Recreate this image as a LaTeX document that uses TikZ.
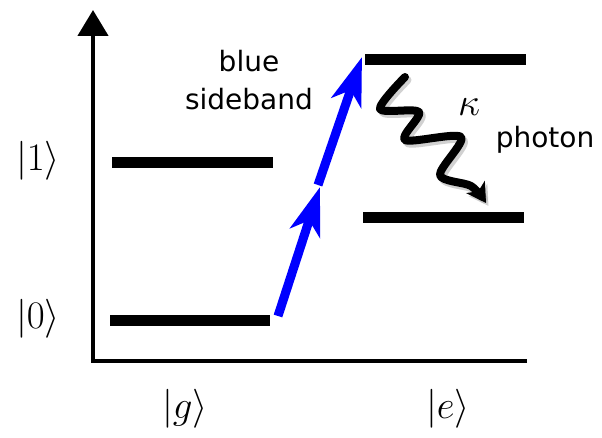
\documentclass[tikz,border=0pt]{standalone}
\usepackage{fix-cm}
\usepackage{fontspec}
\newfontfamily\dejavu{DejaVu Sans}
\usetikzlibrary{arrows.meta}
\definecolor{pureblue}{RGB}{0,0,255}
\tikzset{
  level/.style={line width=11pt, line cap=butt},
  axisline/.style={line width=4.5pt, line join=miter},
  bluearrow/.style={pureblue, line width=9pt, line cap=butt, -{Stealth[length=48pt,width=31pt,inset=13pt]}},
  wave/.style={line width=8pt, line cap=round, line join=round, -{Stealth[length=19pt,width=22pt,inset=5pt]}},
  ketlabel/.style={inner sep=0pt, font=\fontsize{39}{41}\selectfont},
  txtlabel/.style={inner sep=0pt, font=\dejavu\fontsize{28}{34}\selectfont},
}
\begin{document}
\begin{tikzpicture}[x=1pt,y=-1pt]
\useasboundingbox (0,0) rectangle (602,438);
% axes
\coordinate (orig) at (93,361);
\coordinate (ytop) at (93,10);
\coordinate (xend) at (527,361);
\draw[axisline, -{Triangle[length=26pt,width=30pt]}] (xend) -- (orig) -- (ytop);
% levels
\coordinate (g1a) at (112,162.5); \coordinate (g1b) at (273,162.5);
\coordinate (g0a) at (110,320); \coordinate (g0b) at (270,320);
\coordinate (e1a) at (365,60); \coordinate (e1b) at (526,60);
\coordinate (e0a) at (363,217.5); \coordinate (e0b) at (524,217.5);
\draw[level] (g1a) -- (g1b);
\draw[level] (g0a) -- (g0b);
\draw[level] (e1a) -- (e1b);
\draw[level] (e0a) -- (e0b);
% labels
\node[ketlabel] (k1) at (38,160.5) {$|1\rangle$};
\node[ketlabel] (k0) at (38,319) {$|0\rangle$};
\node[ketlabel] (kg) at (185,408.5) {$|g\rangle$};
\node[ketlabel] (ke) at (448,408.5) {$|e\rangle$};
\node[ketlabel] (kappa) at (469,107) {$\kappa$};
\node[txtlabel, anchor=base] (blue) at (249,72) {blue};
\node[txtlabel, anchor=base] (sideband) at (249,110) {sideband};
\node[txtlabel, anchor=base] (photon) at (545,148) {photon};
% blue sideband arrows
\coordinate (b0) at (278,316);
\coordinate (b1) at (320,187);
\coordinate (b2) at (318,185);
\coordinate (b3) at (362,57);
\draw[bluearrow] (b0) -- (b1);
\draw[bluearrow] (b2) -- (b3);
% photon emission (wavy)
\draw[wave, black!30, opacity=0.6, shift={(2.5,3)}] plot[smooth, tension=0.5] coordinates {(405,77) (380,109) (419,112) (405,140) (461,137) (440,175) (471,186) (486,203)};
\draw[wave] plot[smooth, tension=0.5] coordinates {(405,77) (380,109) (419,112) (405,140) (461,137) (440,175) (471,186) (486,203)};
\end{tikzpicture}
\end{document}
